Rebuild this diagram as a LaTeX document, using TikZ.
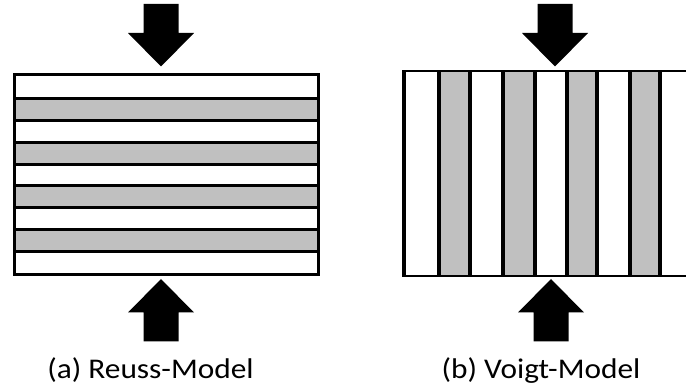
\documentclass[tikz,border=0pt]{standalone}
\usepackage{fontspec}
\setmainfont{Carlito}
\definecolor{stripgray}{RGB}{192,192,192}
\newcommand{\captext}[1]{\scalebox{1.1}[1]{#1}}
\tikzset{
  pics/pressarrow/.style={code={
    \fill[black] (0,0) -- (33,-33.5) -- (17.5,-33.5) -- (17.5,-62.5)
      -- (-17.5,-62.5) -- (-17.5,-33.5) -- (-33,-33.5) -- cycle;}},
  caption/.style={font=\fontsize{28.5}{32}\selectfont, inner sep=0pt, anchor=center},
  layer/.style={draw=black, line width=3pt},
}
\begin{document}
\begin{tikzpicture}[x=1pt, y=-1pt]
\useasboundingbox[fill=white] (0,0) rectangle (686,387);

% ---- (a) layered stack, loaded across the layers ----
\foreach \ya/\yb in {99/120.8, 142.5/164.2, 186/208, 230/251.8}
  \fill[stripgray] (14.5,\ya) rectangle (318.5,\yb);
\foreach \yy in {99, 120.8, 142.5, 164.2, 186, 208, 230, 251.8}
  \draw[line width=3pt] (14.5,\yy) -- (318.5,\yy);
\draw[layer] (14.5,75) rectangle (318.5,275);

\pic at (161,66.5) {pressarrow};
\pic[yscale=-1] at (161,279) {pressarrow};
\node[caption] (capa) at (150.5,370) {\captext{(a) Reuss-Model}};

% ---- (b) columns, loaded along the columns ----
\foreach \xa/\xb in {439.3/470, 503.3/535.3, 566.7/597.3, 629.7/660}
  \fill[stripgray] (\xa,71) rectangle (\xb,275.7);
\foreach \xx in {404, 439.3, 470, 503.3, 535.3, 566.7, 597.3, 629.7, 660}
  \draw[line width=4pt] (\xx,71) -- (\xx,275.7);
\draw[line width=2pt] (402,71) -- (686,71);
\draw[line width=2pt] (402,275.7) -- (686,275.7);

\pic at (555,66.5) {pressarrow};
\pic[yscale=-1] at (551,279) {pressarrow};
\node[caption] (capb) at (541,371) {\captext{(b) Voigt-Model}};
\end{tikzpicture}
\end{document}
